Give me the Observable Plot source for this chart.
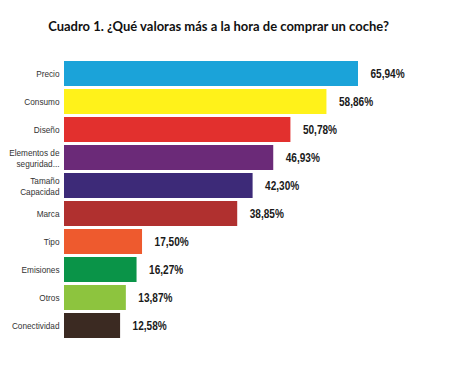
<!DOCTYPE html>
<html>
<head>
<meta charset="utf-8">
<script src="https://cdn.jsdelivr.net/npm/d3@7"></script>
<script src="https://cdn.jsdelivr.net/npm/@observablehq/plot@0.6"></script>
<style>
  body { margin: 0; background: #fff; }
  #title { height: 40px; width: 450px; box-sizing: border-box; padding-top: 18px; padding-right: 13px; text-align: center;
           font-family: Lato, "Open Sans", sans-serif; font-weight: bold; font-size: 13px; color: #111; line-height: 16px; }
  #chart svg { display: block; }
</style>
</head>
<body>
<div id="title">Cuadro 1. ¿Qué valoras más a la hora de comprar un coche?</div>
<div id="chart"></div>
<script>
const categories = ["Precio", "Consumo", "Diseño", "Elementos de\nseguridad...", "Tamaño\nCapacidad", "Marca", "Tipo", "Emisiones", "Otros", "Conectividad"];
const values = [65.94, 58.86, 50.78, 46.93, 42.30, 38.85, 17.50, 16.27, 13.87, 12.58];
const valueLabels = ["65,94%", "58,86%", "50,78%", "46,93%", "42,30%", "38,85%", "17,50%", "16,27%", "13,87%", "12,58%"];
const colors = ["#1ba3d9", "#fff21a", "#e2302e", "#6b2a78", "#3d2a78", "#b0302f", "#ee5a2e", "#0a9448", "#8dc43e", "#3b2a22"];

const data = categories.map((c, i) => ({ cat: c, value: values[i], label: valueLabels[i], color: colors[i] }));

const chart = Plot.plot({
  width: 450,
  height: 339,
  marginLeft: 64,
  marginRight: 92,
  marginTop: 13.7,
  marginBottom: 33.7,
  x: { domain: [0, d3.max(values)], axis: null },
  y: { domain: categories, axis: null, padding: 0.115 },
  style: { background: "#fff" },
  marks: [
    Plot.barX(data, { x: "value", y: "cat", fill: "color" }),
    Plot.text(data, { x: 0, y: "cat", text: "cat", textAnchor: "end", dx: -5, lineHeight: 1.1,
      fontFamily: "'Liberation Sans', Arial, sans-serif", fontSize: 9.8, fill: "#333", className: "cond-a" }),
    Plot.text(data, { x: "value", y: "cat", text: "label", textAnchor: "start", dx: 12,
      fontFamily: "'Liberation Sans', Arial, sans-serif", fontWeight: "bold", fontSize: 12, fill: "#1a1a1a", className: "cond-b" })
  ]
});
// condense the text horizontally around each label's anchor point
d3.select(chart).selectAll("g.cond-a text, g.cond-b text").each(function () {
  const t = this.getAttribute("transform") || "";
  this.setAttribute("transform", t + " scale(0.84,1)");
});
document.getElementById("chart").appendChild(chart);
</script>
</body>
</html>
